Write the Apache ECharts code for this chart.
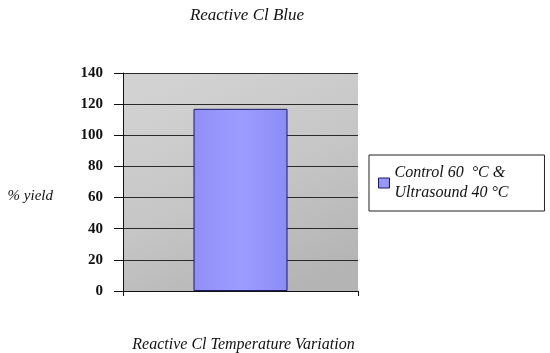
<!DOCTYPE html>
<html>
<head>
<meta charset="utf-8">
<script src="https://cdn.jsdelivr.net/npm/echarts@6/dist/echarts.min.js"></script>
<style>
  html, body { margin: 0; padding: 0; background: #fff; }
  #chart { width: 550px; height: 353px; }
</style>
</head>
<body>
<div id="chart"></div>
<script>
// 数据
var categories = ["Reactive Cl"];
var seriesName = "Control 60  °C &\nUltrasound 40 °C";
var yieldValues = [117];
var yTicks = [0, 20, 40, 60, 80, 100, 120, 140];

var serif = "Liberation Serif";

var myChart = echarts.init(document.getElementById("chart"));

var option = {
  backgroundColor: "#ffffff",
  animation: false,
  title: {
    text: "Reactive Cl Blue",
    left: 242,
    top: 2,
    textAlign: "center",
    textStyle: {
      fontFamily: serif,
      fontStyle: "italic",
      fontWeight: "normal",
      fontSize: 17,
      color: "#111",
    },
  },
  legend: {
    orient: "vertical",
    left: 369,
    top: 155,
    padding: [8, 36, 8, 9],
    borderColor: "#222",
    borderWidth: 1,
    itemWidth: 11,
    itemHeight: 10,
    itemGap: 4,
    icon: "rect",
    data: [seriesName],
    itemStyle: { borderColor: "#1a1a66", borderWidth: 1 },
    textStyle: {
      fontFamily: serif,
      fontStyle: "italic",
      fontSize: 16,
      lineHeight: 20,
      color: "#111",
    },
  },
  grid: {
    left: 123,
    right: 192,
    top: 73,
    bottom: 62,
    outerBoundsMode: "none",
    containLabel: false,
    show: true,
    borderWidth: 0,
    // 灰色渐变背景
    backgroundColor: new echarts.graphic.LinearGradient(0.3, 0, 0.7, 1, [
      { offset: 0, color: "#d2d2d2" },
      { offset: 0.5, color: "#c6c6c6" },
      { offset: 1, color: "#b4b4b4" },
    ]),
  },
  xAxis: {
    type: "category",
    data: categories,
    name: "Reactive Cl Temperature Variation",
    nameLocation: "middle",
    nameGap: 46,
    nameTextStyle: {
      fontFamily: serif,
      fontStyle: "italic",
      fontSize: 16,
      color: "#111",
      padding: [0, 0, 0, 6],
    },
    axisLine: { show: true, lineStyle: { color: "#111", width: 1 } },
    axisTick: { show: true, length: 5, lineStyle: { color: "#111" } },
    axisLabel: { show: false },
  },
  yAxis: {
    type: "value",
    min: 0,
    max: 140,
    interval: 20,
    // 名称下移：前置空行
    name: "\n% yield",
    nameLocation: "middle",
    nameRotate: 0,
    nameGap: 70,
    nameTextStyle: {
      fontFamily: serif,
      fontStyle: "italic",
      fontSize: 15,
      lineHeight: 28,
      color: "#111",
    },
    axisLine: { show: true, lineStyle: { color: "#111", width: 1 } },
    axisTick: { show: true, length: 9, lineStyle: { color: "#111" } },
    axisLabel: {
      margin: 20,
      fontFamily: serif,
      fontWeight: "bold",
      fontSize: 15,
      color: "#111",
      formatter: function (v) {
        return yTicks.indexOf(v) >= 0 ? String(v) : "";
      },
    },
    splitLine: { show: true, lineStyle: { color: "#2a2a2a", width: 1 } },
  },
  series: [
    {
      name: seriesName,
      type: "bar",
      data: yieldValues,
      barWidth: "40%",
      itemStyle: {
        color: new echarts.graphic.LinearGradient(0, 0, 1, 0, [
          { offset: 0, color: "#8f8ff8" },
          { offset: 0.5, color: "#9c9cff" },
          { offset: 1, color: "#8c8cf6" },
        ]),
        borderColor: "#1a1a66",
        borderWidth: 1,
      },
      z: 3,
    },
  ],
};

myChart.setOption(option, true);
</script>
</body>
</html>
